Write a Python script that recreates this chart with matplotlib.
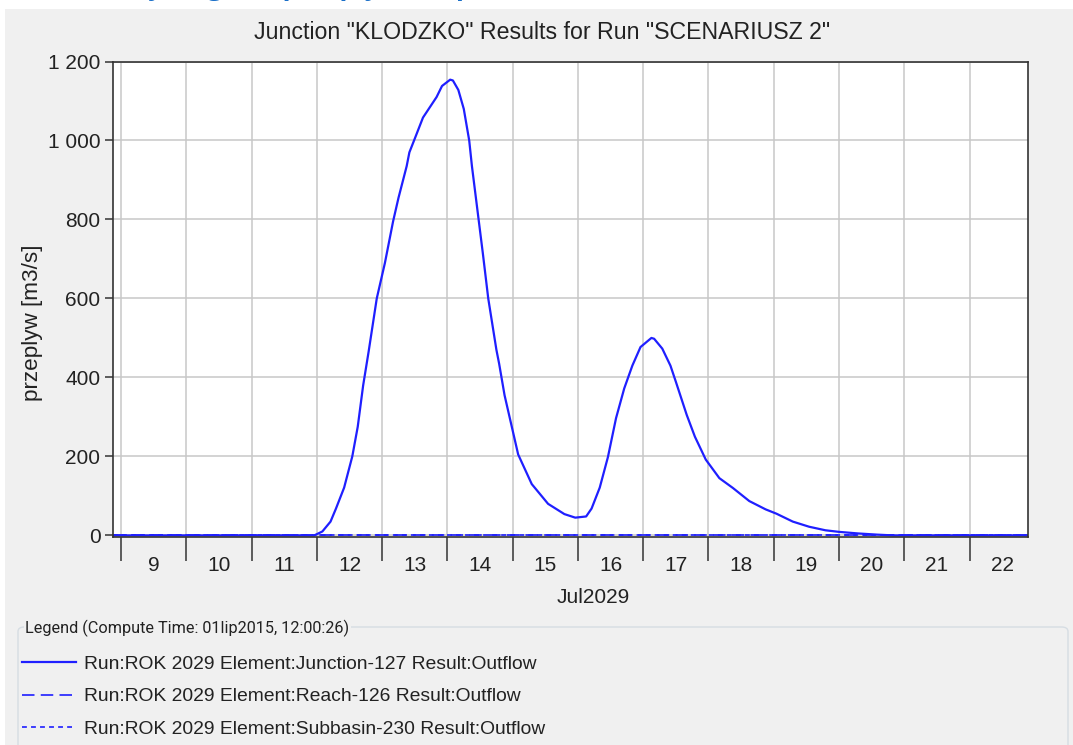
import pandas as pd
import matplotlib
matplotlib.use("Agg")
import matplotlib.pyplot as plt
import matplotlib.dates as mdates
from matplotlib.patches import Rectangle, FancyBboxPatch
from matplotlib.ticker import NullFormatter, FuncFormatter

plt.rcParams['font.family'] = ['Liberation Sans', 'DejaVu Sans']
plt.rcParams['lines.scale_dashes'] = False

# Junction-127 outflow
junction_times = ["2029-07-08 21:00", "2029-07-11 23:00", "2029-07-12 02:00", "2029-07-12 05:00",
                  "2029-07-12 07:00", "2029-07-12 10:00", "2029-07-12 13:00", "2029-07-12 15:00",
                  "2029-07-12 17:00", "2029-07-12 19:00", "2029-07-12 22:00", "2029-07-13 01:00",
                  "2029-07-13 04:00", "2029-07-13 06:00", "2029-07-13 09:00", "2029-07-13 10:00",
                  "2029-07-13 12:00", "2029-07-13 15:00", "2029-07-13 20:00", "2029-07-13 22:00",
                  "2029-07-14 01:00", "2029-07-14 02:00", "2029-07-14 04:00", "2029-07-14 06:00",
                  "2029-07-14 08:00", "2029-07-14 09:00", "2029-07-14 11:00", "2029-07-14 13:00",
                  "2029-07-14 15:00", "2029-07-14 18:00", "2029-07-14 19:00", "2029-07-14 21:00",
                  "2029-07-15 02:00", "2029-07-15 07:00", "2029-07-15 13:00", "2029-07-15 19:00",
                  "2029-07-15 23:00", "2029-07-16 03:00", "2029-07-16 05:00", "2029-07-16 08:00",
                  "2029-07-16 11:00", "2029-07-16 14:00", "2029-07-16 17:00", "2029-07-16 20:00",
                  "2029-07-16 23:00", "2029-07-17 03:00", "2029-07-17 04:00", "2029-07-17 07:00",
                  "2029-07-17 10:00", "2029-07-17 12:00", "2029-07-17 16:00", "2029-07-17 19:00",
                  "2029-07-17 23:00", "2029-07-18 04:00", "2029-07-18 09:00", "2029-07-18 15:00",
                  "2029-07-18 21:00", "2029-07-19 01:00", "2029-07-19 07:00", "2029-07-19 13:00",
                  "2029-07-19 19:00", "2029-07-20 00:00", "2029-07-20 07:00", "2029-07-20 14:00",
                  "2029-07-20 20:00", "2029-07-22 21:30"]
junction_flow = [0, 0, 10, 35,
                 68, 121, 200, 275,
                 380, 465, 600, 690,
                 795, 855, 935, 970,
                 1005, 1058, 1110, 1138,
                 1154, 1152, 1128, 1080,
                 1000, 935, 825, 715,
                 600, 470, 435, 355,
                 205, 130, 80, 54,
                 45, 48, 68, 121,
                 198, 297, 372, 430,
                 477, 500, 498, 473,
                 430, 389, 305, 250,
                 192, 145, 120, 87,
                 66, 55, 35, 22,
                 13, 9, 5, 2,
                 0, 0]

# Reach-126 and Subbasin-230 stay at zero
reach_times = ["2029-07-08 21:00", "2029-07-22 21:30"]
reach_flow = [0, 0]
subbasin_times = ["2029-07-08 21:00", "2029-07-22 21:30"]
subbasin_flow = [0, 0]

y_ticks = [0, 200, 400, 600, 800, 1000, 1200]
y_labels = ["0", "200", "400", "600", "800", "1 000", "1 200"]

labels = ["Run:ROK 2029 Element:Junction-127 Result:Outflow",
          "Run:ROK 2029 Element:Reach-126 Result:Outflow",
          "Run:ROK 2029 Element:Subbasin-230 Result:Outflow"]

W, H = 1073, 745
fig = plt.figure(figsize=(W / 100, H / 100), dpi=100, facecolor="white")

# grey panel behind everything
fig.patches.append(Rectangle((5 / W, 0), 1, 1 - 9 / H, transform=fig.transFigure,
                             facecolor="#f0f0f0", edgecolor="none", zorder=-10))
# heading of the page, only its lowest part shows above the panel
fig.text(128 / W, 1 + 5 / H, "Hydrogram przepływu w p", color="#1a6fc8", fontsize=19,
         fontweight="bold", va="baseline", ha="left", family=["Open Sans", "DejaVu Sans"])

ax = fig.add_axes([113 / W, 1 - 537 / H, (1028 - 113) / W, (537 - 61.5) / H])
ax.set_facecolor("white")

blue = "#1f1fff"
ax.plot(pd.to_datetime(subbasin_times), subbasin_flow, color=blue, lw=1.2, ls=(0, (3.5, 3)), label=labels[2])
ax.plot(pd.to_datetime(reach_times), reach_flow, color=blue, lw=1.2, ls=(0, (9, 4.5)), label=labels[1])
ax.plot(pd.to_datetime(junction_times), junction_flow, color=blue, lw=1.6, label=labels[0])

ax.set_xlim(pd.Timestamp("2029-07-08 21:00"), pd.Timestamp("2029-07-22 21:30"))
ax.set_ylim(-4, 1200)

ax.set_yticks(y_ticks)
ax.set_yticklabels(y_labels)
ax.xaxis.set_major_locator(mdates.DayLocator())
ax.xaxis.set_major_formatter(NullFormatter())
ax.xaxis.set_minor_locator(mdates.HourLocator(byhour=12))
ax.xaxis.set_minor_formatter(FuncFormatter(lambda v, p: str(mdates.num2date(v).day)))

ax.tick_params(axis="x", which="major", length=17, width=1.1, color="#333333", direction="out")
ax.tick_params(axis="x", which="minor", length=0, pad=14, labelsize=15, labelcolor="#222222")
ax.tick_params(axis="y", length=6, width=1.1, color="#333333", pad=3, labelsize=15, labelcolor="#222222")

ax.grid(True, which="major", color="#c8c8c8", lw=1.1)
ax.set_axisbelow(True)
for s in ax.spines.values():
    s.set_color("#333333")
    s.set_linewidth(1.2)

ax.set_title('Junction "KLODZKO" Results for Run "SCENARIUSZ 2"', fontsize=16.7, color="#222222",
             x=(542 - 113) / 915, pad=16)
ax.set_xlabel("Jul2029", fontsize=15, color="#222222")
ax.xaxis.set_label_coords((593 - 113) / 915, -(588 - 537) / 475.5)
ax.set_ylabel("przeplyw [m3/s]", fontsize=16.2, color="#222222")
ax.yaxis.set_label_coords(-(113 - 43) / 915, (537 - 323) / 475.5)

# legend panel
fig.patches.append(FancyBboxPatch((18 / W, -0.05), (1068 - 18) / W, (745 - 627) / H + 0.05,
                                  boxstyle="round,pad=0,rounding_size=0.006", transform=fig.transFigure,
                                  facecolor="#f0f0f0", edgecolor="#d6dde3", lw=1.0, zorder=-5))
fig.text(25 / W, 1 - 628 / H, "Legend (Compute Time: 01lip2015, 12:00:26)", fontsize=11.7,
         color="#222222", va="center", ha="left", family=["Roboto", "DejaVu Sans"],
         bbox=dict(facecolor="#f0f0f0", edgecolor="none", pad=1))

h, l = ax.get_legend_handles_labels()
fig.legend(h[::-1], l[::-1], loc="upper left", bbox_to_anchor=(14 / W, 1 - 648 / H), frameon=False,
           fontsize=13.9, handlelength=2.8, handletextpad=0.45, labelspacing=0.76, borderaxespad=0,
           labelcolor="#222222")

fig.savefig("out.png", dpi=100, facecolor=fig.get_facecolor())
